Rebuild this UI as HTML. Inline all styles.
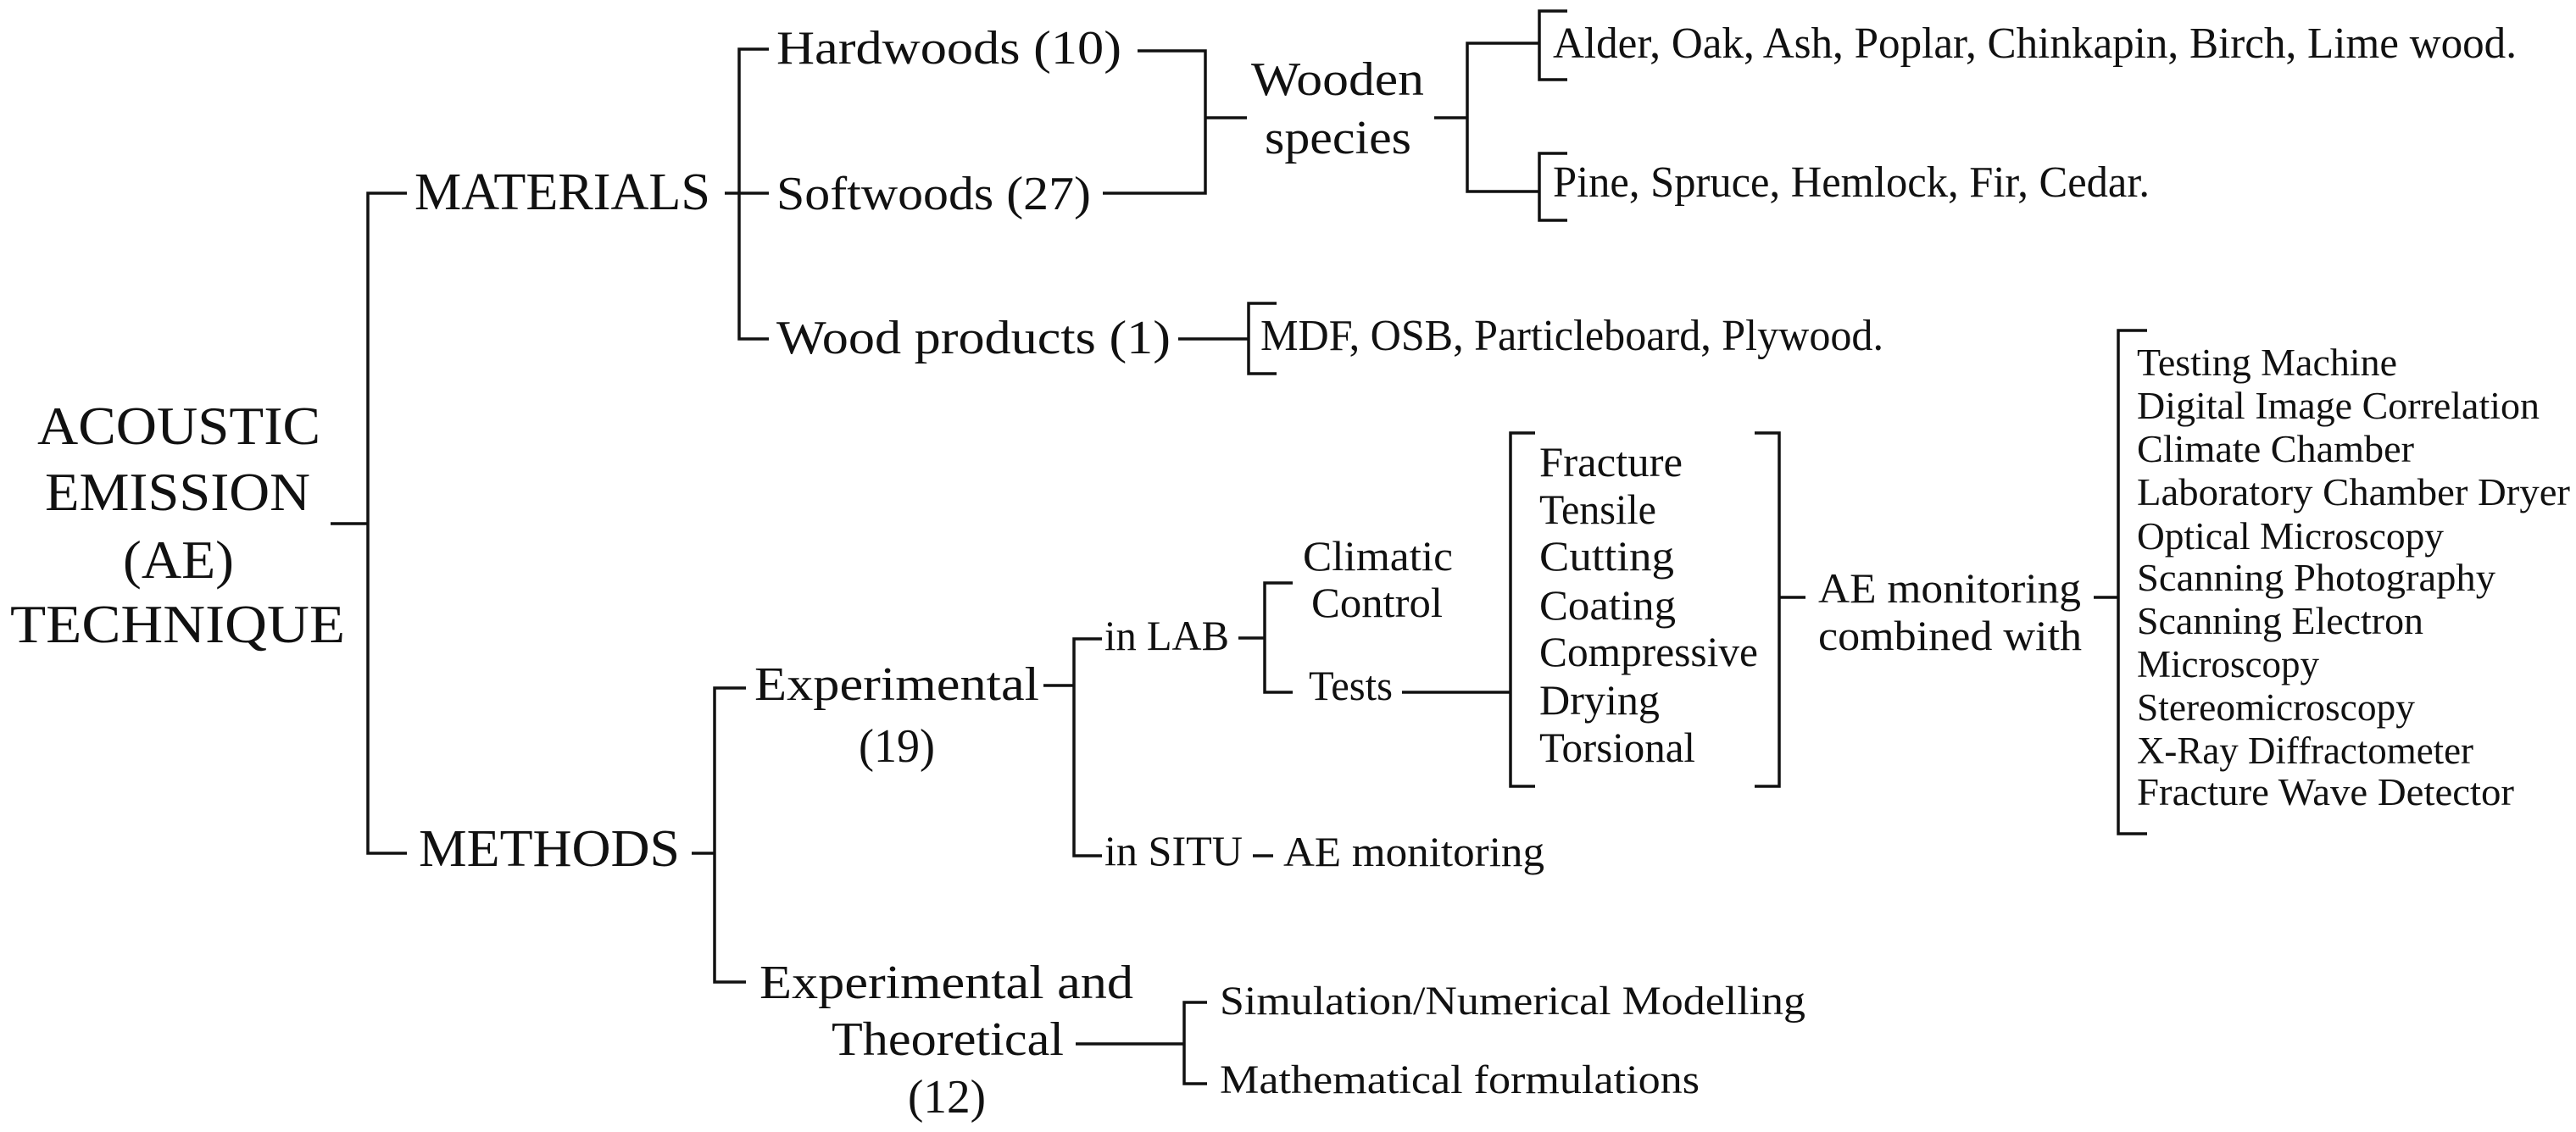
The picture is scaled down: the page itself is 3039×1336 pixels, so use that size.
<!DOCTYPE html>
<html><head><meta charset="utf-8"><style>
html,body{margin:0;padding:0;background:#fff;}
svg{display:block;}
text{font-family:"Liberation Serif",serif;fill:#111;}
</style></head><body>
<svg width="3039" height="1336" viewBox="0 0 3039 1336" xmlns="http://www.w3.org/2000/svg">
<g fill="none" stroke="#111" stroke-width="3.5">
<!-- root -->
<path d="M390 618H434M480 228H434V1007H480"/>
<!-- materials -->
<path d="M855 228H907M907 58H872V400H907"/>
<path d="M1342 60H1422V228H1301M1422 139H1471"/>
<path d="M1692 139H1731M1816 51H1731V226H1816"/>
<path d="M1849 13H1816V94H1849M1849 181H1816V260H1849"/>
<path d="M1390 400H1473M1506 358H1473V441H1506"/>
<!-- methods -->
<path d="M816 1007H843M880 812H843V1159H880"/>
<path d="M1231 809H1267M1300 754H1267V1010H1300M1478 1010H1502"/>
<path d="M1461 753H1492M1525 688H1492V817H1525M1654 817H1782"/>
<path d="M1811 511H1782V928H1811M2070 511H2099V928H2070M2099 705H2130"/>
<path d="M2470 705H2499M2533 390H2499V984H2533"/>
<path d="M1269 1232H1397M1424 1183H1397V1279H1424"/>
</g>
<!-- root text -->
<text x="44" y="524" font-size="64" textLength="334" lengthAdjust="spacingAndGlyphs">ACOUSTIC</text>
<text x="53" y="602" font-size="64" textLength="313" lengthAdjust="spacingAndGlyphs">EMISSION</text>
<text x="145" y="682" font-size="64" textLength="131" lengthAdjust="spacingAndGlyphs">(AE)</text>
<text x="12" y="758" font-size="64" textLength="395" lengthAdjust="spacingAndGlyphs">TECHNIQUE</text>
<text x="489" y="247" font-size="62" textLength="349" lengthAdjust="spacingAndGlyphs">MATERIALS</text>
<text x="494" y="1022" font-size="62" textLength="308" lengthAdjust="spacingAndGlyphs">METHODS</text>
<text x="916" y="75" font-size="56" textLength="407" lengthAdjust="spacingAndGlyphs">Hardwoods (10)</text>
<text x="916" y="247" font-size="56" textLength="371" lengthAdjust="spacingAndGlyphs">Softwoods (27)</text>
<text x="916" y="417" font-size="56" textLength="465" lengthAdjust="spacingAndGlyphs">Wood products (1)</text>
<text x="1476" y="112" font-size="56" textLength="204" lengthAdjust="spacingAndGlyphs">Wooden</text>
<text x="1492" y="181" font-size="56" textLength="173" lengthAdjust="spacingAndGlyphs">species</text>
<text x="1832" y="68" font-size="52" textLength="1137" lengthAdjust="spacingAndGlyphs">Alder, Oak, Ash, Poplar, Chinkapin, Birch, Lime wood.</text>
<text x="1832" y="232" font-size="52" textLength="704" lengthAdjust="spacingAndGlyphs">Pine, Spruce, Hemlock, Fir, Cedar.</text>
<text x="1487" y="413" font-size="52" textLength="735" lengthAdjust="spacingAndGlyphs">MDF, OSB, Particleboard, Plywood.</text>
<text x="890" y="826" font-size="56" textLength="336" lengthAdjust="spacingAndGlyphs">Experimental</text>
<text x="1013" y="899" font-size="56" textLength="90" lengthAdjust="spacingAndGlyphs">(19)</text>
<text x="1303" y="767" font-size="50" textLength="147" lengthAdjust="spacingAndGlyphs">in LAB</text>
<text x="1303" y="1021" font-size="50" textLength="163" lengthAdjust="spacingAndGlyphs">in SITU</text>
<text x="1514" y="1022" font-size="50" textLength="308" lengthAdjust="spacingAndGlyphs">AE monitoring</text>
<text x="1537" y="673" font-size="50" textLength="177" lengthAdjust="spacingAndGlyphs">Climatic</text>
<text x="1547" y="728" font-size="50" textLength="155" lengthAdjust="spacingAndGlyphs">Control</text>
<text x="1544" y="826" font-size="50" textLength="99" lengthAdjust="spacingAndGlyphs">Tests</text>
<g font-size="50">
<text x="1816" y="562" textLength="169" lengthAdjust="spacingAndGlyphs">Fracture</text>
<text x="1816" y="618" textLength="138" lengthAdjust="spacingAndGlyphs">Tensile</text>
<text x="1816" y="673" textLength="159" lengthAdjust="spacingAndGlyphs">Cutting</text>
<text x="1816" y="731" textLength="161" lengthAdjust="spacingAndGlyphs">Coating</text>
<text x="1816" y="786" textLength="258" lengthAdjust="spacingAndGlyphs">Compressive</text>
<text x="1816" y="843" textLength="142" lengthAdjust="spacingAndGlyphs">Drying</text>
<text x="1816" y="899" textLength="184" lengthAdjust="spacingAndGlyphs">Torsional</text>
</g>
<text x="2145" y="711" font-size="50" textLength="310" lengthAdjust="spacingAndGlyphs">AE monitoring</text>
<text x="2145" y="767" font-size="50" textLength="311" lengthAdjust="spacingAndGlyphs">combined with</text>
<g font-size="45">
<text x="2521" y="443" textLength="307" lengthAdjust="spacingAndGlyphs">Testing Machine</text>
<text x="2521" y="494" textLength="475" lengthAdjust="spacingAndGlyphs">Digital Image Correlation</text>
<text x="2521" y="545" textLength="327" lengthAdjust="spacingAndGlyphs">Climate Chamber</text>
<text x="2521" y="596" textLength="511" lengthAdjust="spacingAndGlyphs">Laboratory Chamber Dryer</text>
<text x="2521" y="648" textLength="362" lengthAdjust="spacingAndGlyphs">Optical Microscopy</text>
<text x="2521" y="697" textLength="423" lengthAdjust="spacingAndGlyphs">Scanning Photography</text>
<text x="2521" y="748" textLength="338" lengthAdjust="spacingAndGlyphs">Scanning Electron</text>
<text x="2521" y="799" textLength="215" lengthAdjust="spacingAndGlyphs">Microscopy</text>
<text x="2521" y="850" textLength="328" lengthAdjust="spacingAndGlyphs">Stereomicroscopy</text>
<text x="2521" y="901" textLength="397" lengthAdjust="spacingAndGlyphs">X-Ray Diffractometer</text>
<text x="2521" y="950" textLength="445" lengthAdjust="spacingAndGlyphs">Fracture Wave Detector</text>
</g>
<text x="896" y="1178" font-size="56" textLength="441" lengthAdjust="spacingAndGlyphs">Experimental and</text>
<text x="981" y="1245" font-size="56" textLength="274" lengthAdjust="spacingAndGlyphs">Theoretical</text>
<text x="1071" y="1313" font-size="56" textLength="92" lengthAdjust="spacingAndGlyphs">(12)</text>
<text x="1439" y="1197" font-size="48" textLength="691" lengthAdjust="spacingAndGlyphs">Simulation/Numerical Modelling</text>
<text x="1439" y="1290" font-size="48" textLength="566" lengthAdjust="spacingAndGlyphs">Mathematical formulations</text>
</svg>
</body></html>
